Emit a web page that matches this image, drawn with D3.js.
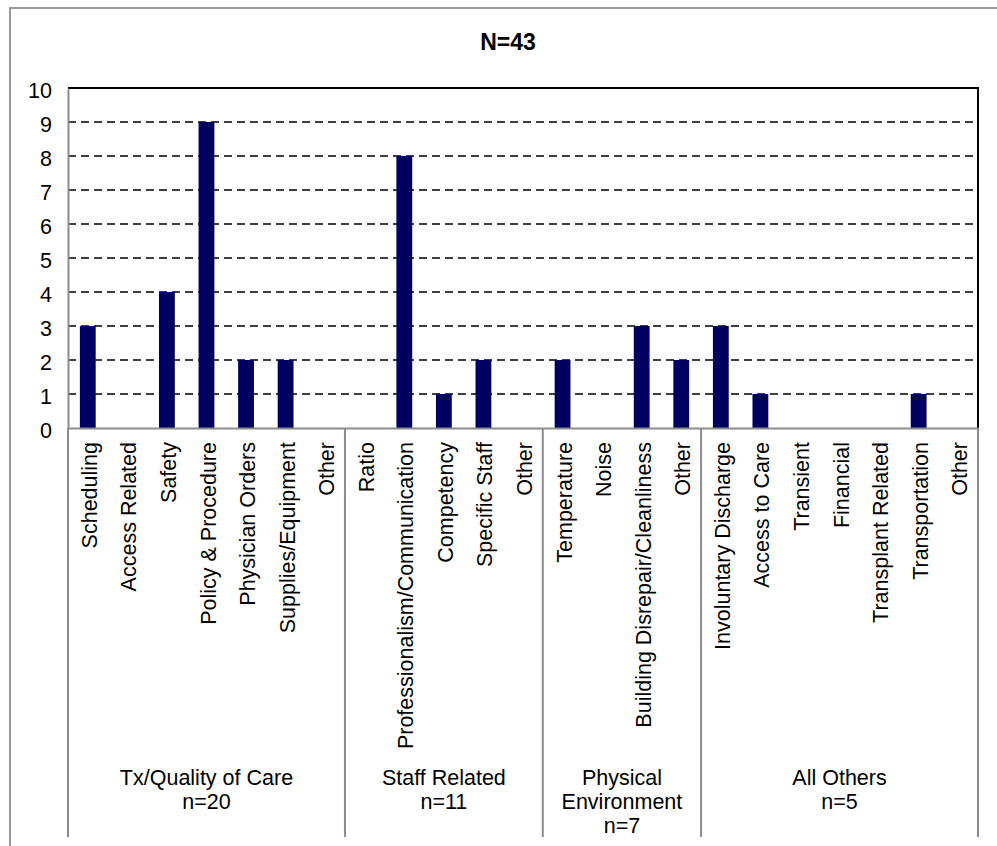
<!DOCTYPE html>
<html>
<head>
<meta charset="utf-8">
<script src="https://cdn.jsdelivr.net/npm/d3@7"></script>
<style>
  html, body { margin: 0; padding: 0; background: #fff; }
  svg { display: block; font-family: "Liberation Sans", Arial, sans-serif; }
</style>
</head>
<body>
<svg id="chart" width="997" height="846"></svg>
<script>
// Complaint counts by category, grouped under four headings
const groups = ["Tx/Quality of Care", "Staff Related", "Physical Environment", "All Others"];
const groupLabelLines = [["Tx/Quality of Care", "n=20"], ["Staff Related", "n=11"], ["Physical", "Environment", "n=7"], ["All Others", "n=5"]];
const categories = [
  "Scheduling", "Access Related", "Safety", "Policy & Procedure", "Physician Orders", "Supplies/Equipment", "Other",
  "Ratio", "Professionalism/Communication", "Competency", "Specific Staff", "Other",
  "Temperature", "Noise", "Building Disrepair/Cleanliness", "Other",
  "Involuntary Discharge", "Access to Care", "Transient", "Financial", "Transplant Related", "Transportation", "Other"
];
const groupOf = [0,0,0,0,0,0,0, 1,1,1,1,1, 2,2,2,2, 3,3,3,3,3,3,3];
const counts = [3,0,4,9,2,2,0, 0,8,1,2,0, 2,0,3,2, 3,1,0,0,0,1,0];
const yTicks = [0,1,2,3,4,5,6,7,8,9,10];
const title = "N=43";

const svg = d3.select("#chart");
const plotL = 68, plotR = 978, plotT = 88, plotB = 428, groupBottom = 837;
const barColor = "#000060";
const axisGray = "#8c8c8c";
const fontSize = 21.5;

// outer chart frame
svg.append("rect")
  .attr("x", 10).attr("y", 8).attr("width", 1000).attr("height", 900)
  .attr("fill", "none").attr("stroke", "#999").attr("stroke-width", 2);

const keys = categories.map((c, i) => i);
const x = d3.scaleBand().domain(keys).range([plotL, plotR]).paddingInner(0.6).paddingOuter(0.3);
const y = d3.scaleLinear().domain([0, 10]).range([plotB, plotT]);

// title
svg.append("text")
  .attr("x", 508).attr("y", 50)
  .attr("text-anchor", "middle")
  .attr("font-size", 23).attr("font-weight", "bold")
  .text(title);

// dashed gridlines
svg.append("g").selectAll("line")
  .data(yTicks.filter(t => t > 0 && t < 10))
  .join("line")
  .attr("x1", plotL).attr("x2", plotR)
  .attr("y1", d => y(d)).attr("y2", d => y(d))
  .attr("stroke", "#000").attr("stroke-width", 1.5)
  .attr("stroke-dasharray", "8,5");

// plot frame: top and right in black
svg.append("path")
  .attr("d", `M${plotL},${y(10)}H${plotR}V${plotB}`)
  .attr("fill", "none").attr("stroke", "#000").attr("stroke-width", 2);

// bars
svg.append("g").selectAll("rect")
  .data(counts)
  .join("rect")
  .attr("x", (d, i) => x(i))
  .attr("width", x.bandwidth())
  .attr("y", d => y(d))
  .attr("height", d => y(0) - y(d))
  .attr("fill", barColor);

// y axis
const yAxis = d3.axisLeft(y).tickValues(yTicks).tickSize(0).tickPadding(16);
const gy = svg.append("g").attr("transform", `translate(${plotL},0)`).call(yAxis);
gy.attr("font-family", null).attr("font-size", null);
gy.select(".domain").attr("stroke", axisGray).attr("stroke-width", 2);
gy.selectAll("text").attr("font-size", fontSize).attr("fill", "#000").attr("dy", "0.42em");

// x axis baseline
const xAxis = d3.axisBottom(x).tickSize(0).tickFormat(() => "");
const gx = svg.append("g").attr("transform", `translate(0,${plotB})`).call(xAxis);
gx.select(".domain").attr("stroke", axisGray).attr("stroke-width", 2);

// rotated category labels
svg.append("g").selectAll("text")
  .data(categories)
  .join("text")
  .attr("transform", (d, i) => `translate(${x(i) + x.bandwidth() / 2 + 1.5},442) rotate(-90)`)
  .attr("text-anchor", "end")
  .attr("dy", "0.35em")
  .attr("font-size", fontSize)
  .text(d => d);

// group boundaries
const bounds = [0];
groupOf.forEach((g, i) => { if (i > 0 && g !== groupOf[i - 1]) bounds.push(i); });
bounds.push(categories.length);
const step = x.step();
const edgeX = i => plotL + i * step;

svg.append("g").selectAll("line")
  .data(bounds)
  .join("line")
  .attr("x1", d => edgeX(d)).attr("x2", d => edgeX(d))
  .attr("y1", plotB).attr("y2", groupBottom)
  .attr("stroke", axisGray).attr("stroke-width", 2);

// group labels
const gl = svg.append("g").selectAll("text")
  .data(groups)
  .join("text")
  .attr("text-anchor", "middle")
  .attr("font-size", fontSize)
  .attr("transform", (d, gi) => `translate(${(edgeX(bounds[gi]) + edgeX(bounds[gi + 1])) / 2},785)`);
gl.selectAll("tspan")
  .data((d, gi) => groupLabelLines[gi])
  .join("tspan")
  .attr("x", 0)
  .attr("y", (d, i) => i * 24)
  .text(d => d);
</script>
</body>
</html>
